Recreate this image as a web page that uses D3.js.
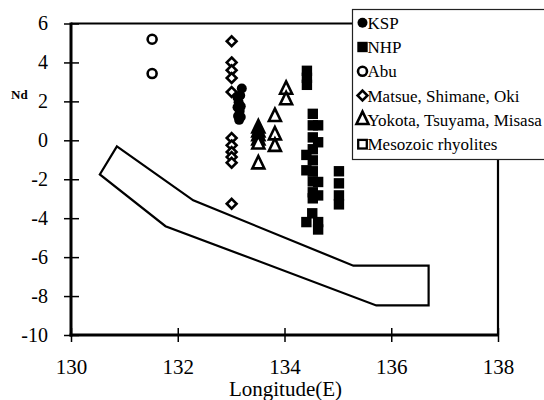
<!DOCTYPE html>
<html>
<head>
<meta charset="utf-8">
<script src="https://cdn.jsdelivr.net/npm/d3@7"></script>
<style>
  body { margin: 0; background: #fff; }
  svg { display: block; }
</style>
</head>
<body>
<svg id="chart" width="544" height="400"></svg>
<script>
// ---------- data ----------
const xTicks = [130, 132, 134, 136, 138];
const yTicks = [-10, -8, -6, -4, -2, 0, 2, 4, 6];
const xTitle = "Longitude(E)";
const yTitle = "Nd";

// [longitude, Nd]
const ksp = [[133.2, 2.66], [133.17, 2.3], [133.12, 2.2], [133.14, 1.95], [133.12, 1.7],
             [133.18, 1.75], [133.16, 1.5], [133.13, 1.25], [133.18, 1.2], [133.15, 1.05]];
const nhp = [[134.42, 3.57], [134.42, 3.21], [134.42, 2.85],
             [134.53, 1.36], [134.53, 0.77], [134.53, 0.15], [134.53, -0.46], [134.53, -1.03],
             [134.53, -1.59], [134.53, -2.11], [134.53, -2.67], [134.53, -2.98],
             [134.63, 0.77], [134.63, -0.1],
             [134.41, -0.75], [134.41, -1.54],
             [134.63, -2.14], [134.63, -2.83],
             [134.52, -3.75], [134.41, -4.2], [134.63, -4.2], [134.63, -4.58],
             [135.02, -1.59], [135.02, -2.21], [135.02, -2.83], [135.02, -3.29]];
const abu = [[131.52, 5.19], [131.52, 3.43]];
const matsue = [[133.01, 5.09], [133.01, 4.0], [133.01, 3.6], [133.01, 3.2], [133.01, 2.48],
                [133.01, 0.12], [133.01, -0.26], [133.01, -0.6], [133.01, -0.86], [133.01, -1.15],
                [133.01, -3.26]];
const yokota = [[134.03, 2.6], [134.03, 2.06],
                [133.82, 1.2], [133.82, 0.26], [133.82, -0.33],
                [133.51, 0.62], [133.51, 0.41], [133.51, 0.21], [133.51, 0.0], [133.51, -0.21],
                [133.51, -1.23]];
const mesozoicField = [[130.86, -0.31], [132.29, -3.08], [135.29, -6.44], [136.70, -6.43],
                       [136.70, -8.48], [135.72, -8.48], [131.77, -4.41], [130.54, -1.75]];
const legendLabels = ["KSP", "NHP", "Abu", "Matsue, Shimane, Oki",
                      "Yokota, Tsuyama, Misasa", "Mesozoic rhyolites"];

// ---------- drawing ----------
const SERIF = '"Liberation Serif", "Times New Roman", serif';
const svg = d3.select("#chart");
const x = d3.scaleLinear().domain([130, 138]).range([71, 498]);
const y = d3.scaleLinear().domain([-10, 6]).range([335, 23.5]);

const shapes = {
  circleFilled: g => g.append("circle").attr("r", 5).attr("fill", "#000"),
  squareFilled: g => g.append("rect").attr("x", -5.2).attr("y", -5.2).attr("width", 10.4).attr("height", 10.4).attr("fill", "#000"),
  circleOpen: g => g.append("circle").attr("r", 4.5).attr("fill", "#fff").attr("stroke", "#000").attr("stroke-width", 2.6),
  diamondOpen: g => g.append("path").attr("d", "M0,-4.9L4.9,0L0,4.9L-4.9,0Z").attr("fill", "#fff").attr("stroke", "#000").attr("stroke-width", 2.6),
  triangleOpen: g => g.append("path").attr("d", "M0,-8.3L6,4.1L-6,4.1Z").attr("fill", "#fff").attr("stroke", "#000").attr("stroke-width", 2.6).attr("stroke-linejoin", "miter"),
  squareOpen: g => g.append("rect").attr("x", -4.3).attr("y", -4.3).attr("width", 8.6).attr("height", 8.6).attr("fill", "#fff").attr("stroke", "#000").attr("stroke-width", 2.3)
};

// Mesozoic rhyolite field
svg.append("path")
  .attr("d", d3.line().x(d => x(d[0])).y(d => y(d[1]))(mesozoicField) + "Z")
  .attr("fill", "none").attr("stroke", "#000").attr("stroke-width", 2.2)
  .attr("stroke-linejoin", "miter");

function plotSeries(data, shape) {
  const g = svg.append("g");
  data.forEach(d => {
    const m = g.append("g").attr("transform", `translate(${x(d[0])},${y(d[1])})`);
    shapes[shape](m);
  });
}
plotSeries(abu, "circleOpen");
plotSeries(matsue, "diamondOpen");
plotSeries(yokota, "triangleOpen");
plotSeries(ksp, "circleFilled");
plotSeries(nhp, "squareFilled");

// axes
const yAxis = svg.append("g").attr("transform", `translate(${x(130)},0)`)
  .call(d3.axisLeft(y).tickValues(yTicks).tickSize(7).tickPadding(16).tickFormat(d3.format("d")));
yAxis.select(".domain").remove();
yAxis.selectAll(".tick line").attr("x1", 8).attr("stroke", "#000").attr("stroke-width", 1.5);
yAxis.selectAll(".tick text")
  .style("font-size", "20px").style("font-family", SERIF).attr("fill", "#000")
  .text(d => d < 0 ? "-" + Math.abs(d) : d);

const xAxis = svg.append("g").attr("transform", `translate(0,${y(-10)})`)
  .call(d3.axisBottom(x).tickValues(xTicks).tickSize(7).tickPadding(17).tickFormat(d3.format("d")));
xAxis.select(".domain").remove();
xAxis.selectAll(".tick line").attr("y1", -7).attr("stroke", "#000").attr("stroke-width", 1.5);
xAxis.selectAll(".tick text").style("font-size", "21px").style("font-family", SERIF).attr("fill", "#000");

// frame
const frame = svg.append("g").attr("stroke", "#000").attr("fill", "none");
frame.append("line").attr("x1", x(130)).attr("x2", x(138)).attr("y1", y(6)).attr("y2", y(6)).attr("stroke-width", 2.2);
frame.append("line").attr("x1", x(138)).attr("x2", x(138)).attr("y1", y(6)).attr("y2", y(-10)).attr("stroke-width", 2.2);
frame.append("line").attr("x1", x(130)).attr("x2", x(130)).attr("y1", y(6) - 1).attr("y2", y(-10) + 1.5).attr("stroke-width", 3);
frame.append("line").attr("x1", x(130) - 1.5).attr("x2", x(138) + 1).attr("y1", y(-10)).attr("y2", y(-10)).attr("stroke-width", 3);

// titles
svg.append("text").attr("x", (x(130) + x(138)) / 2 + 1).attr("y", 396)
  .attr("text-anchor", "middle").style("font-size", "21px").style("font-family", SERIF).text(xTitle);
svg.append("text").attr("x", 11).attr("y", 99)
  .style("font-size", "13px").style("font-weight", "bold").style("font-family", SERIF).text(yTitle);

// legend
const legendShapes = ["circleFilled", "squareFilled", "circleOpen", "diamondOpen", "triangleOpen", "squareOpen"];
const lg = svg.append("g");
lg.append("rect").attr("x", 352.5).attr("y", 9.5).attr("width", 200).attr("height", 150)
  .attr("fill", "#fff").attr("stroke", "#222").attr("stroke-width", 1.2);
legendLabels.forEach((lab, i) => {
  const cy = 22.7 + i * 24.3;
  const m = lg.append("g").attr("transform", `translate(362.5,${cy})`);
  shapes[legendShapes[i]](m);
  lg.append("text").attr("x", 367.5).attr("y", cy + 6)
    .style("font-size", "17px").style("font-family", SERIF).text(lab);
});
</script>
</body>
</html>
